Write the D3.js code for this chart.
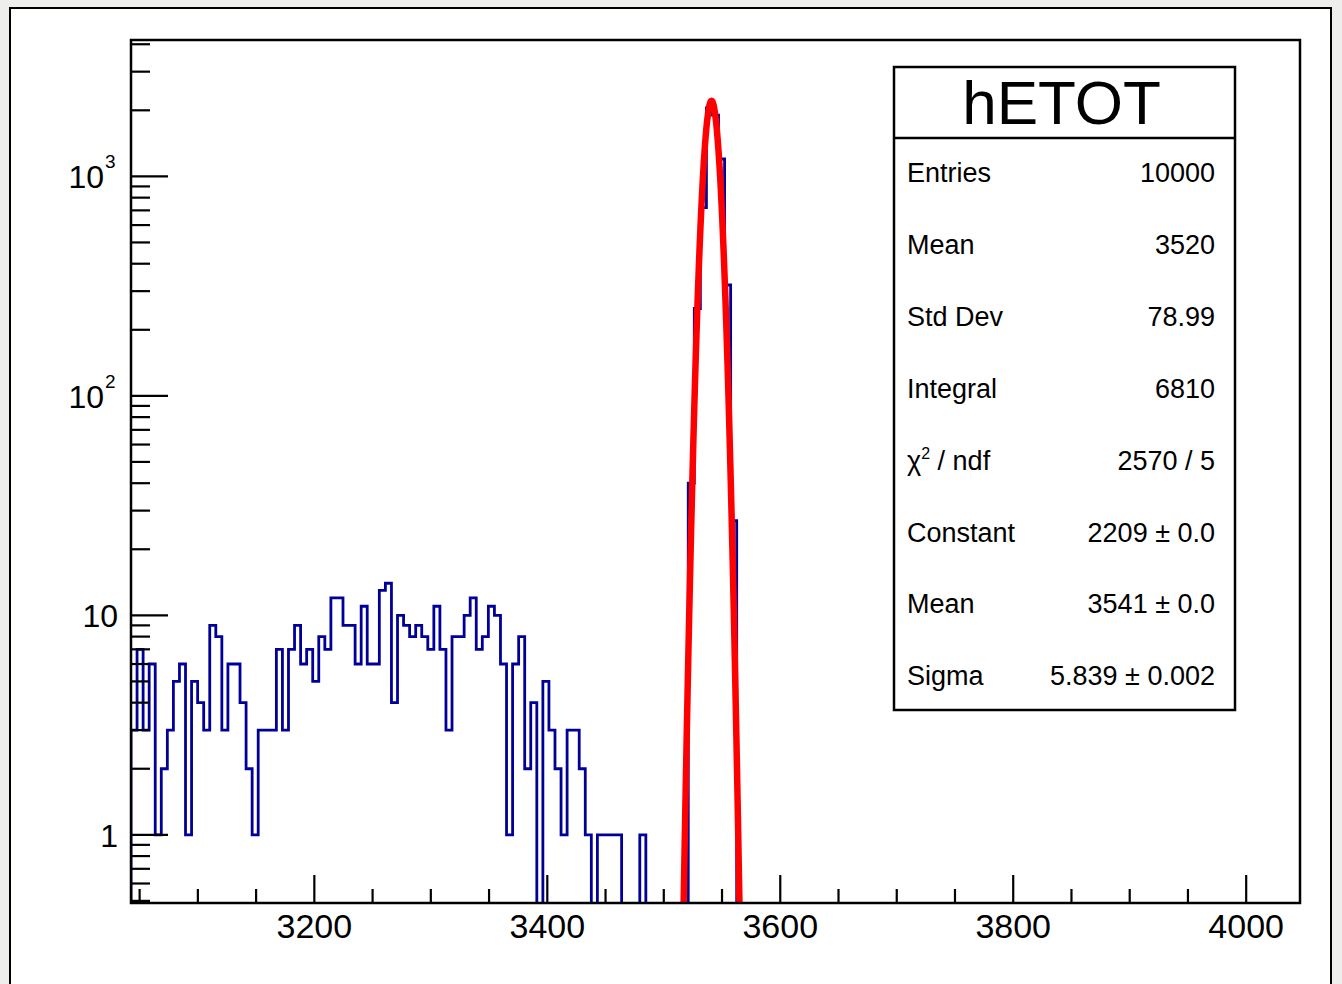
<!DOCTYPE html>
<html>
<head>
<meta charset="utf-8">
<script src="https://cdn.jsdelivr.net/npm/d3@7"></script>
<style>
  html, body { margin: 0; padding: 0; background: #eeeeec; }
  svg { display: block; }
  text { font-family: "Liberation Sans", Arial, Helvetica, sans-serif; fill: #000; }
</style>
</head>
<body>
<svg id="chart" width="1342" height="984"></svg>
<script>
// hETOT: total energy histogram, 193 bins of width 5.2 starting at 3042.6
const binStart = 3042.6;
const binWidth = 5.2;
const nBins = 193;
// bin contents for bins 0..100 (all later bins are empty)
const counts = [
  3, 7, 3, 6, 1, 2, 3, 5, 6, 1,
  5, 4, 3, 9, 8, 3, 6, 6, 4, 2,
  1, 3, 3, 3, 7, 3, 7, 9, 6, 7,
  5, 8, 7, 12, 12, 9, 9, 6, 11, 6,
  6, 13, 14, 4, 10, 9, 8, 9, 8, 7,
  11, 7, 3, 8, 8, 10, 12, 7, 8, 11,
  10, 6, 1, 6, 8, 2, 4, 0, 5, 3,
  2, 1, 3, 3, 2, 1, 0, 1, 1, 1,
  1, 0, 0, 0, 1, 0, 0, 0, 0, 0,
  0, 0, 40, 250, 720, 2050, 1900, 1200, 320, 27,
  0
];

// Gaussian fit result
const fitConstant = 2209;
const fitMean = 3541;
const fitSigma = 5.839;
const fitRange = [3495, 3590];

// axis ticks
const xMajorTicks = [3200, 3400, 3600, 3800, 4000];
const yDecades = [1, 10, 100, 1000];
const yDecadeLabels = [["1", ""], ["10", ""], ["10", "2"], ["10", "3"]];

// statistics box
const statsTitle = "hETOT";
const statsNames = ["Entries", "Mean", "Std Dev", "Integral", "chi2", "Constant", "Mean", "Sigma"];
const statsValues = ["10000", "3520", "78.99", "6810", "2570 / 5", "2209 \u00b1 0.0", "3541 \u00b1 0.0", "5.839 \u00b1 0.002"];

const svg = d3.select("#chart");
const F = { left: 131, right: 1300, top: 40, bottom: 903 };

const x = d3.scaleLinear().domain([binStart, binStart + nBins * binWidth]).range([F.left, F.right]);
const y = d3.scaleLog().domain([0.489, 4182]).range([F.bottom, F.top]);

// canvas
svg.append("rect").attr("x", 10).attr("y", 8).attr("width", 1321).attr("height", 990)
  .attr("fill", "#fff").attr("stroke", "#000").attr("stroke-width", 2);

svg.append("defs").append("clipPath").attr("id", "frameClip")
  .append("rect").attr("x", F.left).attr("y", F.top)
  .attr("width", F.right - F.left).attr("height", F.bottom - F.top);

const plot = svg.append("g").attr("clip-path", "url(#frameClip)");

// histogram outline (empty bins sit on the bottom of the frame)
const yBin = c => c > 0 ? y(c) : F.bottom + 4;
let p = d3.path();
p.moveTo(x(binStart), F.bottom + 4);
counts.forEach((c, i) => {
  const x0 = x(binStart + i * binWidth), x1 = x(binStart + (i + 1) * binWidth);
  p.lineTo(x0, yBin(c));
  p.lineTo(x1, yBin(c));
});
p.lineTo(x(binStart + counts.length * binWidth), F.bottom + 4);
plot.append("path").attr("d", p.toString()).attr("fill", "none")
  .attr("stroke", "#000099").attr("stroke-width", 2.8).attr("stroke-linejoin", "miter");

// fitted gaussian
const gauss = v => fitConstant * Math.exp(-0.5 * Math.pow((v - fitMean) / fitSigma, 2));
const fx = d3.range(fitRange[0], fitRange[1] + 1e-9, (fitRange[1] - fitRange[0]) / 400);
const line = d3.line().x(v => x(v)).y(v => Math.min(y(Math.max(gauss(v), 1e-3)), F.bottom + 6));
plot.append("path").datum(fx).attr("d", line).attr("fill", "none")
  .attr("stroke", "#ff0000").attr("stroke-width", 6.5).attr("stroke-linejoin", "round");

// frame
svg.append("rect").attr("x", F.left).attr("y", F.top)
  .attr("width", F.right - F.left).attr("height", F.bottom - F.top)
  .attr("fill", "none").attr("stroke", "#000").attr("stroke-width", 2.5);

// x axis ticks
const axisG = svg.append("g").attr("stroke", "#000").attr("stroke-width", 2.2);
const xMinor = d3.range(3050, 4046, 50);
xMinor.forEach(v => {
  const major = xMajorTicks.includes(v);
  axisG.append("line").attr("x1", x(v)).attr("x2", x(v))
    .attr("y1", F.bottom).attr("y2", F.bottom - (major ? 28 : 14));
});
svg.append("g").selectAll("text").data(xMajorTicks).join("text")
  .attr("x", d => x(d)).attr("y", 938).attr("text-anchor", "middle")
  .attr("font-size", 34).attr("fill", "#111").text(d => d);

// y axis ticks
[0.1, 1, 10, 100, 1000].forEach(dec => {
  for (let m = 1; m <= 9; m++) {
    const v = dec * m;
    if (v < y.domain()[0] || v > y.domain()[1]) continue;
    const len = m === 1 ? 37 : 19;
    axisG.append("line").attr("x1", F.left).attr("x2", F.left + len)
      .attr("y1", y(v)).attr("y2", y(v));
  }
});
const yl = svg.append("g");
yDecades.forEach((d, i) => {
  const [base, sup] = yDecadeLabels[i];
  yl.append("text").attr("x", sup ? 104 : 118).attr("y", y(d) + 12)
    .attr("text-anchor", "end").attr("font-size", 32).attr("fill", "#111").text(base);
  if (sup) {
    yl.append("text").attr("x", 105).attr("y", y(d) - 8).attr("font-size", 19).attr("fill", "#111").text(sup);
  }
});

// statistics box
const S = { left: 894, right: 1235, top: 67, divider: 138, bottom: 710 };
const sg = svg.append("g");
sg.append("rect").attr("x", S.left).attr("y", S.top).attr("width", S.right - S.left)
  .attr("height", S.bottom - S.top).attr("fill", "#fff").attr("stroke", "#000").attr("stroke-width", 2.5);
sg.append("line").attr("x1", S.left).attr("x2", S.right).attr("y1", S.divider).attr("y2", S.divider)
  .attr("stroke", "#000").attr("stroke-width", 2.5);
sg.append("text").attr("x", (S.left + S.right) / 2 - 3).attr("y", 124).attr("text-anchor", "middle")
  .attr("font-size", 62).text(statsTitle);

const rowY0 = 172, rowStep = 71.9;
statsNames.forEach((name, i) => {
  const cy = rowY0 + i * rowStep + 10;
  const t = sg.append("text").attr("x", 907).attr("y", cy).attr("font-size", 27).attr("fill", "#1a1a1a");
  if (name === "chi2") {
    t.append("tspan").text("\u03c7");
    t.append("tspan").attr("font-size", 16).attr("dy", -11).text("2");
    t.append("tspan").attr("dy", 11).text(" / ndf");
  } else {
    t.text(name);
  }
  sg.append("text").attr("x", 1215).attr("y", cy).attr("text-anchor", "end")
    .attr("font-size", 27).attr("fill", "#1a1a1a").text(statsValues[i]);
});
</script>
</body>
</html>
